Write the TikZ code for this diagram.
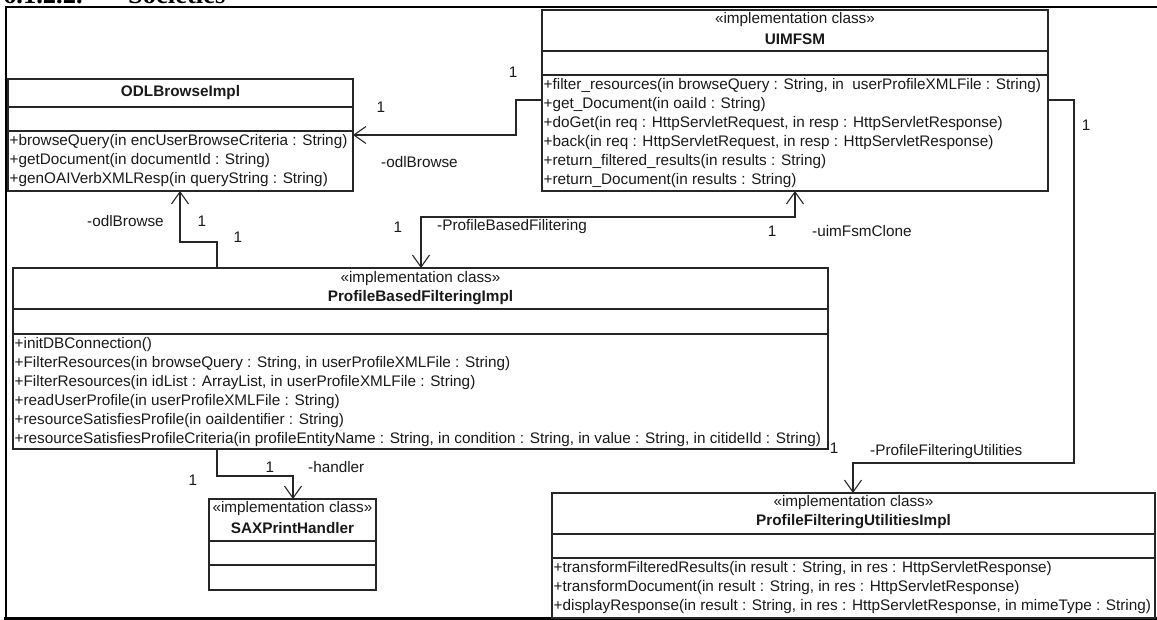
\documentclass[tikz,border=0pt]{standalone}
\usepackage{fontspec}
\setmainfont{Liberation Sans}
\newfontfamily\headfont{Liberation Serif}
\usetikzlibrary{arrows.meta}
\begin{document}
\begin{tikzpicture}[x=1pt,y=-1pt,
  box/.style={draw=black!85, line width=1.1pt, inner sep=0, outer sep=0, anchor=north west},
  sep/.style={draw=black!85, line width=1.1pt},
  txt/.style={inner sep=0, font=\fontsize{15.3}{18}\selectfont, text=black!90},
  op/.style={txt, anchor=west},
  title/.style={txt, font=\fontsize{15.3}{18}\selectfont\bfseries},
  stereo/.style={txt},
  lbl/.style={txt},
  lblw/.style={txt, anchor=west},
  assoc/.style={draw=black!85, line width=1.1pt},
  nav/.style={-{Straight Barb[length=12pt,width=17pt]}},
  navboth/.style={{Straight Barb[length=12pt,width=17pt]}-{Straight Barb[length=12pt,width=17pt]}},
  frame/.style={draw=black, line cap=rect},
  head/.style={inner sep=0, anchor=base west, font=\headfont\bfseries\fontsize{26.5}{30}\selectfont},
]
\useasboundingbox (0,0) rectangle (1157,620);

% section heading, cut by the top edge
\node[head] (secnum) at (3,3.2) {6.1.2.2.};
\node[head] (sectitle) at (128,3.2) {Societies};

% surrounding frame
\draw[frame, line width=2pt] (5.8,7) -- (1160,7);
\draw[frame, line width=2.4pt] (5.8,7) -- (5.8,618.5);
\draw[frame, line width=3pt] (5.8,618.5) -- (1160,618.5);

% ---------------- ODLBrowseImpl
\node[box, minimum width=345pt, minimum height=112pt] (odl) at (8,79) {};
\draw[sep] (odl.west |- 0,107) -- (odl.east |- 0,107);
\draw[sep] (odl.west |- 0,131) -- (odl.east |- 0,131);
\node[title] (odlname) at (odl.north |- 0,93) {ODLBrowseImpl};
\node[op] (odlop1) at (9.5,142) {+browseQuery(in encUserBrowseCriteria : String)};
\node[op] (odlop2) at (9.5,161) {+getDocument(in documentId : String)};
\node[op] (odlop3) at (9.5,180) {+genOAIVerbXMLResp(in queryString : String)};

% ---------------- UIMFSM
\node[box, minimum width=506pt, minimum height=181pt] (uim) at (542,10) {};
\draw[sep] (uim.west |- 0,51) -- (uim.east |- 0,51);
\draw[sep] (uim.west |- 0,75) -- (uim.east |- 0,75);
\node[stereo] (uimst) at (uim.north |- 0,20) {«implementation class»};
\node[title] (uimname) at (uim.north |- 0,39) {UIMFSM};
\node[op] (uimop1) at (543.5,86) {+filter\_resources(in browseQuery : String, in\ \ userProfileXMLFile : String)};
\node[op] (uimop2) at (543.5,105) {+get\_Document(in oaiId : String)};
\node[op] (uimop3) at (543.5,124) {+doGet(in req : HttpServletRequest, in resp : HttpServletResponse)};
\node[op] (uimop4) at (543.5,143) {+back(in req : HttpServletRequest, in resp : HttpServletResponse)};
\node[op] (uimop5) at (543.5,162) {+return\_filtered\_results(in results : String)};
\node[op] (uimop6) at (543.5,181) {+return\_Document(in results : String)};

% ---------------- ProfileBasedFilteringImpl
\node[box, minimum width=815pt, minimum height=181pt] (pbf) at (13,268) {};
\draw[sep] (pbf.west |- 0,309) -- (pbf.east |- 0,309);
\draw[sep] (pbf.west |- 0,334) -- (pbf.east |- 0,334);
\node[stereo] (pbfst) at (pbf.north |- 0,279) {«implementation class»};
\node[title] (pbfname) at (pbf.north |- 0,298) {ProfileBasedFilteringImpl};
\node[op] (pbfop1) at (14.5,345) {+initDBConnection()};
\node[op] (pbfop2) at (14.5,364) {+FilterResources(in browseQuery : String, in userProfileXMLFile : String)};
\node[op] (pbfop3) at (14.5,383) {+FilterResources(in idList : ArrayList, in userProfileXMLFile : String)};
\node[op] (pbfop4) at (14.5,402) {+readUserProfile(in userProfileXMLFile : String)};
\node[op] (pbfop5) at (14.5,421) {+resourceSatisfiesProfile(in oaiIdentifier : String)};
\node[op] (pbfop6) at (14.5,440) {+resourceSatisfiesProfileCriteria(in profileEntityName : String, in condition : String, in value : String, in citideIld : String)};

% ---------------- SAXPrintHandler
\node[box, minimum width=167pt, minimum height=91pt] (sax) at (209,499) {};
\draw[sep] (sax.west |- 0,541) -- (sax.east |- 0,541);
\draw[sep] (sax.west |- 0,565) -- (sax.east |- 0,565);
\node[stereo] (saxst) at (sax.north |- 0,509) {«implementation class»};
\node[title] (saxname) at (sax.north |- 0,528) {SAXPrintHandler};

% ---------------- ProfileFilteringUtilitiesImpl
\node[box, minimum width=603pt, minimum height=125pt] (pfu) at (552,493) {};
\draw[sep] (pfu.west |- 0,534) -- (pfu.east |- 0,534);
\draw[sep] (pfu.west |- 0,558) -- (pfu.east |- 0,558);
\node[stereo] (pfust) at (pfu.north |- 0,503) {«implementation class»};
\node[title] (pfuname) at (pfu.north |- 0,522) {ProfileFilteringUtilitiesImpl};
\node[op] (pfuop1) at (553.5,569) {+transformFilteredResults(in result : String, in res : HttpServletResponse)};
\node[op] (pfuop2) at (553.5,588) {+transformDocument(in result : String, in res : HttpServletResponse)};
\node[op] (pfuop3) at (553.5,607) {+displayResponse(in result : String, in res : HttpServletResponse, in mimeType : String)};

% ---------------- associations
% UIMFSM -> ODLBrowseImpl
\draw[assoc, nav] (uim.west |- 0,100) -| (516,135) -- (odl.east |- 0,135);
\node[lbl] (m1a) at (513,72) {1};
\node[lbl] (m1b) at (381,107) {1};
\node[lblw] (r1) at (381,162) {-odlBrowse};

% UIMFSM -> ProfileFilteringUtilitiesImpl
\draw[assoc, nav] (uim.east |- 0,100) -| (1074,463) -| (pfu.north -| 853,0);
\node[lbl] (m2a) at (1086,125) {1};
\node[lbl] (m2b) at (834,448) {1};
\node[lblw] (r2) at (870,452) {-ProfileFilteringUtilities};

% ProfileBasedFilteringImpl <-> UIMFSM
\draw[assoc, navboth] (pbf.north -| 421,0) |- (795,217) -- (uim.south -| 795,0);
\node[lbl] (m3a) at (398,227) {1};
\node[lblw] (r3a) at (437,227) {-ProfileBasedFilitering};
\node[lbl] (m3b) at (772,231) {1};
\node[lblw] (r3b) at (812,231) {-uimFsmClone};

% ProfileBasedFilteringImpl -> ODLBrowseImpl
\draw[assoc, nav] (pbf.north -| 217,0) |- (180,242) -- (odl.south -| 180,0);
\node[lblw] (r4) at (87,221) {-odlBrowse};
\node[lbl] (m4a) at (202,221) {1};
\node[lbl] (m4b) at (238,237) {1};

% ProfileBasedFilteringImpl -> SAXPrintHandler
\draw[assoc, nav] (pbf.south -| 217,0) |- (293,476) -- (sax.north -| 293,0);
\node[lbl] (m5a) at (270,467) {1};
\node[lblw] (r5) at (308,467) {-handler};
\node[lbl] (m5b) at (193,480) {1};
\end{tikzpicture}
\end{document}
